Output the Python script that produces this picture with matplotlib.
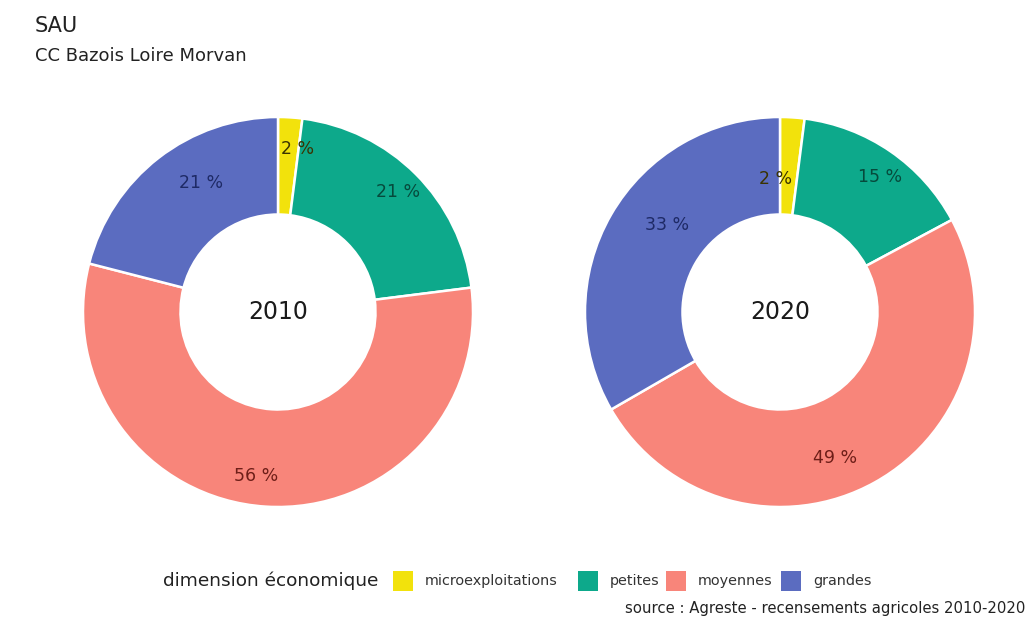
import numpy as np
import matplotlib
matplotlib.use("Agg")
import matplotlib.pyplot as plt
from matplotlib.patches import Rectangle

# Data: share of the agricultural area (SAU) by economic size class
categories = ["microexploitations", "petites", "moyennes", "grandes"]
years = ["2010", "2020"]
shares_2010 = [2, 21, 56, 21]
shares_2020 = [2, 15, 49, 33]

colors = ["#F2E20C", "#0DA98B", "#F8857A", "#5B6CC0"]
text_colors = ["#3A3300", "#064A3C", "#6E1E18", "#1E2A66"]

# Label placement (radius as fraction of outer radius, angular nudge in degrees)
label_radius = {"2010": [0.84, 0.87, 0.85, 0.77], "2020": [0.68, 0.86, 0.80, 0.73]}
label_nudge = {"2010": [3.4, 0, 4, 7], "2020": [-5.6, 2, 8.5, 7.6]}

# Legend key left edges (pixels)
legend_key_x = [393, 578, 666, 781]

W, H = 1031, 620
fig = plt.figure(figsize=(W / 100, H / 100), dpi=100)

R_PX = 195
HOLE = 0.50
centers = [(278, 312), (780, 312)]

for (cx, cy), year, shares in zip(centers, years, [shares_2010, shares_2020]):
    ax = fig.add_axes([(cx - R_PX) / W, (H - cy - R_PX) / H, 2 * R_PX / W, 2 * R_PX / H])
    ax.pie(shares, colors=colors, startangle=90, counterclock=False, radius=1,
           wedgeprops=dict(width=1 - HOLE, edgecolor="white", linewidth=1.8))
    ax.set_xlim(-1, 1)
    ax.set_ylim(-1, 1)
    ax.set_aspect("equal")
    ax.axis("off")
    ax.text(0, 0, year, ha="center", va="center", fontsize=17, color="#1a1a1a")
    total = sum(shares)
    cum = 0
    for i, s in enumerate(shares):
        mid = (cum + s / 2) / total * 360 + label_nudge[year][i]
        cum += s
        r = label_radius[year][i]
        th = np.deg2rad(90 - mid)
        ax.text(r * np.cos(th), r * np.sin(th), f"{s} %", ha="center", va="center",
                fontsize=12.5, color=text_colors[i])

fig.text(35 / W, 1 - 26 / H, "SAU", ha="left", va="center", fontsize=15, color="#222222")
fig.text(35 / W, 1 - 56 / H, "CC Bazois Loire Morvan", ha="left", va="center",
         fontsize=13, color="#222222")

# Legend: title on the left, then square keys with their labels
LEG_Y = 581
KEY = 20
fig.text(378 / W, 1 - LEG_Y / H, "dimension économique", ha="right", va="center",
         fontsize=13.3, color="#222222")
for x, c, lab in zip(legend_key_x, colors, categories):
    fig.patches.append(Rectangle((x / W, (H - LEG_Y - KEY / 2) / H), KEY / W, KEY / H,
                                 transform=fig.transFigure, facecolor=c, edgecolor="none"))
    fig.text((x + KEY + 12) / W, 1 - LEG_Y / H, lab, ha="left", va="center",
             fontsize=10.4, color="#333333")

fig.text(1025 / W, 1 - 608 / H, "source : Agreste - recensements agricoles 2010-2020",
         ha="right", va="center", fontsize=10.7, color="#222222")

fig.savefig("out.png", dpi=100, facecolor="white")
